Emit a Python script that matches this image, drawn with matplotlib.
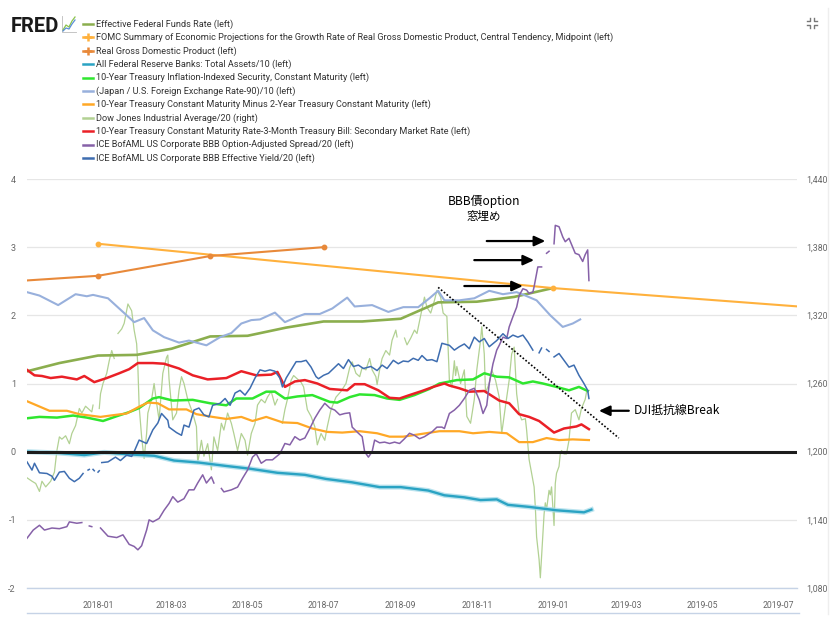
import numpy as np
import pandas as pd
import matplotlib
matplotlib.use('Agg')
import matplotlib.pyplot as plt
import matplotlib.dates as mdates
from matplotlib.lines import Line2D
from matplotlib.ticker import FuncFormatter

nan = np.nan

# ---------------- data ----------------
effr_dates = ['2017-11-01', '2017-12-01', '2018-01-01', '2018-02-01', '2018-03-01', '2018-04-01',
              '2018-05-01', '2018-06-01', '2018-07-01', '2018-08-01', '2018-09-01', '2018-10-01',
              '2018-11-01', '2018-12-01', '2019-01-01']
effr_vals = [1.16, 1.30, 1.41, 1.42, 1.51, 1.69, 1.70, 1.82, 1.91, 1.91, 1.95, 2.19, 2.20, 2.27, 2.40]

fomc_dates = ['2018-01-01', '2019-01-01', '2020-01-01']
fomc_vals = [3.05, 2.40, 1.90]

gdp_dates = ['2017-10-01', '2018-01-01', '2018-04-01', '2018-07-01']
gdp_vals = [2.47, 2.58, 2.87, 3.00]

fed_dates = ['2017-11-05', '2017-12-01', '2017-12-21', '2018-01-06', '2018-01-26', '2018-02-15',
             '2018-03-03', '2018-03-23', '2018-04-14', '2018-05-03', '2018-05-25', '2018-06-16',
             '2018-07-03', '2018-07-24', '2018-08-15', '2018-09-01', '2018-09-23', '2018-10-06',
             '2018-10-22', '2018-11-04', '2018-11-17', '2018-11-26', '2018-12-13', '2019-01-04',
             '2019-01-26', '2019-02-01']
fed_vals = [0.00, -0.02, -0.05, -0.01, -0.04, -0.06, -0.13, -0.16, -0.21, -0.25, -0.31, -0.34,
            -0.40, -0.45, -0.52, -0.52, -0.57, -0.64, -0.67, -0.71, -0.70, -0.78, -0.81, -0.86,
            -0.89, -0.85]

tips_dates = ['2017-11-05', '2017-11-15', '2017-11-29', '2017-12-12', '2017-12-23', '2018-01-05',
              '2018-01-16', '2018-01-26', '2018-02-03', '2018-02-14', '2018-02-19', '2018-03-02',
              '2018-03-18', '2018-04-01', '2018-04-14', '2018-04-22', '2018-05-05', '2018-05-16',
              '2018-05-23', '2018-05-31', '2018-06-10', '2018-06-16', '2018-06-22', '2018-07-06',
              '2018-07-12', '2018-07-22', '2018-07-30', '2018-08-11', '2018-08-21', '2018-08-31',
              '2018-09-12', '2018-09-24', '2018-10-02', '2018-10-16', '2018-10-29', '2018-11-07',
              '2018-11-17', '2018-11-27', '2018-12-08', '2018-12-16', '2018-12-24', '2019-01-04',
              '2019-01-14', '2019-01-22', '2019-01-29']
tips_vals = [0.49, 0.51, 0.50, 0.53, 0.50, 0.45, 0.52, 0.58, 0.64, 0.78, 0.80, 0.75, 0.76, 0.71,
             0.68, 0.78, 0.78, 0.88, 0.88, 0.78, 0.81, 0.82, 0.83, 0.73, 0.72, 0.80, 0.84, 0.83,
             0.78, 0.76, 0.83, 0.92, 1.00, 1.05, 1.06, 1.15, 1.10, 1.09, 1.00, 1.03, 1.00, 0.95,
             0.90, 0.95, 0.89]

jpy_dates = ['2017-11-05', '2017-11-15', '2017-11-30', '2017-12-14', '2017-12-23', '2017-12-28',
             '2018-01-09', '2018-01-18', '2018-01-30', '2018-02-07', '2018-02-14', '2018-02-23',
             '2018-03-07', '2018-03-15', '2018-03-29', '2018-04-09', '2018-04-18', '2018-04-26',
             '2018-05-04', '2018-05-11', '2018-05-23', '2018-05-31', '2018-06-10', '2018-06-16',
             '2018-06-28', '2018-07-08', '2018-07-20', '2018-07-26', '2018-08-09', '2018-08-22',
             '2018-09-03', '2018-09-15', '2018-09-24', '2018-10-01', '2018-10-06', '2018-10-18',
             '2018-10-30', '2018-11-11', '2018-11-22', '2018-12-03', '2018-12-10', '2018-12-19',
             '2018-12-30', '2019-01-09', '2019-01-17', '2019-01-23']
jpy_vals = [2.34, 2.29, 2.15, 2.31, 2.28, 2.30, 2.25, 2.10, 1.90, 1.96, 1.78, 1.68, 1.60, 1.63,
            1.56, 1.68, 1.74, 1.88, 1.93, 1.94, 2.04, 1.90, 1.98, 2.02, 2.02, 2.10, 2.26, 2.13,
            2.15, 2.05, 2.12, 2.12, 2.25, 2.36, 2.22, 2.22, 2.25, 2.36, 2.31, 2.34, 2.29, 2.22,
            2.00, 1.83, 1.88, 1.94]

t10y2y_dates = ['2017-11-05', '2017-11-23', '2017-12-07', '2017-12-17', '2018-01-03', '2018-01-11',
                '2018-01-24', '2018-02-03', '2018-02-10', '2018-02-18', '2018-02-27', '2018-03-13',
                '2018-03-21', '2018-04-03', '2018-04-14', '2018-04-26', '2018-05-05', '2018-05-16',
                '2018-05-29', '2018-06-10', '2018-06-22', '2018-07-04', '2018-07-16', '2018-07-30',
                '2018-08-13', '2018-08-23', '2018-09-03', '2018-09-14', '2018-10-02', '2018-10-18',
                '2018-10-29', '2018-11-11', '2018-11-25', '2018-12-05', '2018-12-16', '2018-12-27',
                '2019-01-06', '2019-01-17', '2019-01-30']
t10y2y_vals = [0.74, 0.60, 0.60, 0.55, 0.51, 0.53, 0.56, 0.66, 0.72, 0.71, 0.62, 0.62, 0.55, 0.51,
               0.48, 0.51, 0.45, 0.51, 0.43, 0.42, 0.34, 0.29, 0.28, 0.30, 0.27, 0.22, 0.22, 0.25,
               0.30, 0.30, 0.27, 0.29, 0.27, 0.14, 0.14, 0.20, 0.17, 0.18, 0.17]

t10y3m_dates = ['2017-11-05', '2017-11-11', '2017-11-17', '2017-11-24', '2017-12-03', '2017-12-15',
                '2017-12-21', '2017-12-29', '2018-01-08', '2018-01-18', '2018-01-26', '2018-02-02',
                '2018-02-14', '2018-02-23', '2018-03-07', '2018-03-18', '2018-03-30', '2018-04-14',
                '2018-04-26', '2018-05-08', '2018-05-20', '2018-05-25', '2018-05-31', '2018-06-08',
                '2018-06-16', '2018-06-26', '2018-07-06', '2018-07-20', '2018-07-26', '2018-08-03',
                '2018-08-14', '2018-08-23', '2018-08-31', '2018-09-08', '2018-09-18', '2018-09-27',
                '2018-10-06', '2018-10-10', '2018-10-18', '2018-10-26', '2018-11-07', '2018-11-19',
                '2018-11-27', '2018-12-05', '2018-12-13', '2018-12-21', '2019-01-02', '2019-01-10',
                '2019-01-20', '2019-01-24', '2019-01-30']
t10y3m_vals = [1.20, 1.12, 1.11, 1.08, 1.10, 1.06, 1.11, 1.02, 1.08, 1.15, 1.21, 1.30, 1.30, 1.29,
               1.22, 1.12, 1.06, 1.08, 1.18, 1.12, 1.13, 1.17, 0.95, 1.03, 1.05, 1.00, 0.92, 0.90,
               0.99, 0.99, 0.90, 0.79, 0.78, 0.83, 0.89, 0.95, 1.00, 0.97, 0.93, 0.88, 0.89, 0.75,
               0.71, 0.55, 0.51, 0.45, 0.28, 0.34, 0.37, 0.40, 0.33]

dji_dates = ['2017-11-05', '2017-11-09', '2017-11-12', '2017-11-15', '2017-11-17', '2017-11-20',
             '2017-11-24', '2017-11-27', '2017-11-29', '2017-12-01', '2017-12-03', '2017-12-06',
             '2017-12-09', '2017-12-11', '2017-12-14', '2017-12-17', '2017-12-19', '2017-12-22',
             '2017-12-27', '2017-12-28', '2017-12-30', '2018-01-02', '2018-01-03', '2018-01-05',
             '2018-01-08', '2018-01-10', '2018-01-12', '2018-01-14', '2018-01-15', '2018-01-17',
             '2018-01-20', '2018-01-22', '2018-01-25', '2018-01-28', '2018-01-30', '2018-02-01',
             '2018-02-02', '2018-02-03', '2018-02-05', '2018-02-06', '2018-02-07', '2018-02-09',
             '2018-02-10', '2018-02-13', '2018-02-15', '2018-02-17', '2018-02-19', '2018-02-22',
             '2018-02-25', '2018-02-26', '2018-02-27', '2018-03-02', '2018-03-05', '2018-03-07',
             '2018-03-09', '2018-03-11', '2018-03-14', '2018-03-18', '2018-03-21', '2018-03-22',
             '2018-03-25', '2018-03-27', '2018-03-30', '2018-04-02', '2018-04-04', '2018-04-07',
             '2018-04-10', '2018-04-12', '2018-04-15', '2018-04-18', '2018-04-20', '2018-04-23',
             '2018-04-26', '2018-04-29', '2018-05-01', '2018-05-04', '2018-05-07', '2018-05-09',
             '2018-05-12', '2018-05-15', '2018-05-17', '2018-05-20', '2018-05-23', '2018-05-25',
             '2018-05-27', '2018-05-29', '2018-05-31', '2018-06-02', '2018-06-05', '2018-06-07',
             '2018-06-10', '2018-06-13', '2018-06-15', '2018-06-18', '2018-06-21', '2018-06-24',
             '2018-06-26', '2018-06-29', '2018-07-02', '2018-07-04', '2018-07-07', '2018-07-11',
             '2018-07-15', '2018-07-19', '2018-07-22', '2018-07-24', '2018-07-27', '2018-07-30',
             '2018-08-01', '2018-08-04', '2018-08-07', '2018-08-09', '2018-08-12', '2018-08-13',
             '2018-08-15', '2018-08-17', '2018-08-20', '2018-08-23', '2018-08-25', '2018-08-28',
             '2018-08-29', '2018-09-01', '2018-09-04', '2018-09-06', '2018-09-09', '2018-09-12',
             '2018-09-14', '2018-09-17', '2018-09-20', '2018-09-22', '2018-09-25', '2018-09-28',
             '2018-09-30', '2018-10-03', '2018-10-05', '2018-10-08', '2018-10-10', '2018-10-12',
             '2018-10-14', '2018-10-15', '2018-10-16', '2018-10-19', '2018-10-22', '2018-10-24',
             '2018-10-27', '2018-10-30', '2018-11-01', '2018-11-04', '2018-11-05', '2018-11-07',
             '2018-11-08', '2018-11-11', '2018-11-13', '2018-11-16', '2018-11-19', '2018-11-21',
             '2018-11-24', '2018-11-27', '2018-11-29', '2018-12-01', '2018-12-03', '2018-12-05',
             '2018-12-07', '2018-12-10', '2018-12-11', '2018-12-13', '2018-12-15', '2018-12-17',
             '2018-12-18', '2018-12-19', '2018-12-21', '2018-12-22', '2018-12-25', '2018-12-26',
             '2018-12-27', '2018-12-29', '2018-12-30', '2018-12-31', '2019-01-02', '2019-01-03',
             '2019-01-04', '2019-01-06', '2019-01-07', '2019-01-08', '2019-01-10', '2019-01-12',
             '2019-01-14', '2019-01-16', '2019-01-19', '2019-01-22', '2019-01-24', '2019-01-27',
             '2019-01-28', '2019-01-30']
dji_vals = [1177, 1174, 1172, 1165, 1174, 1169, 1174, 1182, 1201, 1213, 1211, 1214,
            1207, 1216, 1223, 1238, 1234, 1240, 1235, 1241, nan, 1238, 1251, 1260,
            1269, 1280, 1289, 1282, nan, 1304, 1308, 1313, 1330, 1324, 1307, 1295,
            1274, 1240, 1213, 1203, 1194, 1216, 1234, 1246, 1260, 1243, 1228, 1269,
            1283, 1285, 1264, 1228, 1234, 1254, 1266, 1260, 1246, 1234, 1222, 1190,
            1210, 1196, 1207, 1184, 1213, 1201, 1225, 1219, 1234, 1225, 1216, 1201,
            1216, 1210, 1197, 1216, 1225, 1241, 1246, 1243, 1248, 1253, 1241, 1246,
            nan, 1225, 1237, 1246, 1263, 1267, 1264, 1261, 1257, 1237, 1231, 1222,
            1206, 1216, 1210, 1222, 1237, 1248, 1253, 1260, 1274, 1279, 1269, 1266,
            1274, 1272, 1282, 1272, 1266, 1259, 1272, 1282, 1289, 1285, 1298, 1307,
            1301, nan, 1300, 1294, 1300, 1307, 1304, 1320, 1336, 1327, 1322, 1333,
            1342, 1336, 1322, 1319, 1263, 1257, 1280, 1267, 1275, 1260, 1272, 1231,
            1225, 1246, 1272, 1298, 1310, 1286, 1252, 1260, 1272, 1263, 1248, 1216,
            1240, 1263, 1286, 1292, 1251, 1234, 1228, 1229, 1219, 1193, 1181, 1169,
            1151, 1125, 1105, 1089, 1145, 1155, 1149, 1166, 1162, 1169, 1135, 1172,
            1181, 1187, 1198, 1201, 1198, 1198, 1210, 1234, 1237, 1228, 1238, 1246,
            1252, 1254]

oas_dates = ['2017-11-05', '2017-11-10', '2017-11-15', '2017-11-19', '2017-11-25', '2017-12-01',
             '2017-12-07', '2017-12-09', '2017-12-15', '2017-12-19', '2017-12-22', '2017-12-25',
             '2017-12-27', '2017-12-29', '2018-01-03', '2018-01-09', '2018-01-16', '2018-01-21',
             '2018-01-26', '2018-01-30', '2018-02-02', '2018-02-05', '2018-02-09', '2018-02-11',
             '2018-02-14', '2018-02-17', '2018-02-19', '2018-02-23', '2018-02-27', '2018-03-02',
             '2018-03-06', '2018-03-11', '2018-03-15', '2018-03-19', '2018-03-22', '2018-03-26',
             '2018-03-29', '2018-04-02', '2018-04-04', '2018-04-06', '2018-04-10', '2018-04-12',
             '2018-04-18', '2018-04-23', '2018-04-27', '2018-05-01', '2018-05-05', '2018-05-08',
             '2018-05-12', '2018-05-16', '2018-05-21', '2018-05-27', '2018-05-31', '2018-06-04',
             '2018-06-08', '2018-06-12', '2018-06-16', '2018-06-20', '2018-06-24', '2018-06-28',
             '2018-07-02', '2018-07-06', '2018-07-10', '2018-07-14', '2018-07-18', '2018-07-22',
             '2018-07-24', '2018-07-29', '2018-08-01', '2018-08-03', '2018-08-06', '2018-08-09',
             '2018-08-11', '2018-08-15', '2018-08-19', '2018-08-23', '2018-08-27', '2018-08-31',
             '2018-09-04', '2018-09-08', '2018-09-12', '2018-09-16', '2018-09-20', '2018-09-26',
             '2018-09-30', '2018-10-04', '2018-10-06', '2018-10-10', '2018-10-14', '2018-10-18',
             '2018-10-22', '2018-10-26', '2018-10-30', '2018-11-03', '2018-11-06', '2018-11-09',
             '2018-11-11', '2018-11-14', '2018-11-17', '2018-11-19', '2018-11-22', '2018-11-25',
             '2018-11-27', '2018-11-30', '2018-12-03', '2018-12-05', '2018-12-08', '2018-12-11',
             '2018-12-13', '2018-12-16', '2018-12-17', '2018-12-19', '2018-12-20', '2018-12-23',
             '2018-12-25', '2018-12-27', '2018-12-29', '2019-01-01', '2019-01-02', '2019-01-03',
             '2019-01-06', '2019-01-09', '2019-01-11', '2019-01-14', '2019-01-17', '2019-01-19',
             '2019-01-22', '2019-01-25', '2019-01-27', '2019-01-29', '2019-01-30']
oas_vals = [-1.27, -1.15, -1.08, -1.15, -1.12, -1.13, -1.10, -1.03, -1.05, -1.04, nan, -1.09,
            -1.10, nan, -1.12, -1.24, -1.26, -1.22, -1.36, -1.39, -1.44, -1.38, -1.15, -1.00,
            -1.03, -1.00, -0.98, -0.86, -0.76, -0.66, -0.74, -0.69, -0.56, -0.56, -0.46, -0.34,
            -0.46, -0.37, -0.46, nan, -0.54, -0.59, -0.56, -0.52, -0.39, -0.27, -0.08, -0.03,
            -0.17, -0.12, -0.12, -0.03, 0.12, 0.10, 0.22, 0.17, 0.20, 0.34, 0.49, 0.61,
            0.71, 0.64, 0.61, 0.54, 0.56, 0.57, 0.36, 0.27, 0.22, 0.00, -0.08, 0.00,
            0.17, 0.13, 0.14, 0.12, 0.14, 0.12, 0.19, 0.27, 0.24, 0.19, 0.22, 0.29,
            0.36, 0.36, 0.34, 0.56, 0.61, 0.68, 0.78, 0.90, 0.93, 0.76, 0.56, 0.68,
            1.00, 1.29, 1.49, 1.56, 1.68, 1.66, 1.83, 1.98, 2.12, 2.29, 2.39, 2.37,
            2.32, 2.34, 2.42, 2.61, 2.71, 2.71, nan, 2.91, 2.94, nan, 3.05, 3.32,
            3.30, 3.15, 3.08, 3.13, 3.00, 2.91, 2.89, 2.79, 2.89, 2.96, 2.51]

bbb_dates = ['2017-11-05', '2017-11-09', '2017-11-11', '2017-11-15', '2017-11-21', '2017-11-25',
             '2017-11-27', '2017-12-01', '2017-12-05', '2017-12-09', '2017-12-13', '2017-12-17',
             '2017-12-20', '2017-12-22', '2017-12-24', '2017-12-25', '2017-12-26', '2017-12-28',
             '2017-12-29', '2017-12-31', '2018-01-01', '2018-01-02', '2018-01-03', '2018-01-04',
             '2018-01-09', '2018-01-15', '2018-01-19', '2018-01-24', '2018-01-28', '2018-01-30',
             '2018-02-03', '2018-02-09', '2018-02-14', '2018-02-18', '2018-02-21', '2018-02-26',
             '2018-02-27', '2018-03-05', '2018-03-09', '2018-03-11', '2018-03-15', '2018-03-19',
             '2018-03-23', '2018-03-27', '2018-03-31', '2018-04-03', '2018-04-09', '2018-04-13',
             '2018-04-17', '2018-04-21', '2018-04-25', '2018-04-29', '2018-05-03', '2018-05-07',
             '2018-05-11', '2018-05-15', '2018-05-19', '2018-05-23', '2018-05-27', '2018-05-29',
             '2018-06-01', '2018-06-05', '2018-06-09', '2018-06-13', '2018-06-17', '2018-06-21',
             '2018-06-25', '2018-06-27', '2018-07-01', '2018-07-05', '2018-07-09', '2018-07-13',
             '2018-07-17', '2018-07-21', '2018-07-25', '2018-07-29', '2018-08-02', '2018-08-08',
             '2018-08-13', '2018-08-17', '2018-08-21', '2018-08-26', '2018-08-30', '2018-09-03',
             '2018-09-07', '2018-09-11', '2018-09-15', '2018-09-18', '2018-09-22', '2018-09-26',
             '2018-09-30', '2018-10-04', '2018-10-10', '2018-10-14', '2018-10-18', '2018-10-22',
             '2018-10-26', '2018-10-30', '2018-11-03', '2018-11-07', '2018-11-11', '2018-11-17',
             '2018-11-22', '2018-11-26', '2018-11-30', '2018-12-04', '2018-12-08', '2018-12-12',
             '2018-12-16', '2018-12-19', '2018-12-21', '2018-12-23', '2018-12-25', '2018-12-27',
             '2018-12-29', '2019-01-01', '2019-01-02', '2019-01-06', '2019-01-10', '2019-01-14',
             '2019-01-18', '2019-01-22', '2019-01-26', '2019-01-29', '2019-01-30']
bbb_vals = [-0.15, -0.27, -0.17, -0.31, -0.32, -0.36, -0.42, -0.30, -0.29, -0.39, -0.44, -0.39,
            -0.32, nan, -0.27, -0.26, nan, -0.26, -0.28, nan, -0.30, -0.28, nan, -0.16,
            -0.15, -0.08, -0.13, -0.05, -0.07, 0.00, 0.17, 0.12, 0.32, 0.42, 0.56, 0.46,
            0.36, 0.28, 0.24, 0.39, 0.36, 0.61, 0.64, 0.54, 0.51, 0.68, 0.71, 0.78,
            0.68, 0.86, 0.90, 0.83, 0.93, 1.08, 1.20, 1.18, 1.20, 1.18, 1.08, 0.95,
            1.08, 1.20, 1.32, 1.32, 1.34, 1.24, 1.10, 1.07, 1.12, 1.15, 1.22, 1.29,
            1.22, 1.35, 1.25, 1.27, 1.22, 1.25, 1.19, 1.27, 1.22, 1.34, 1.29, 1.33,
            1.32, 1.37, 1.34, 1.41, 1.34, 1.35, 1.32, 1.59, 1.56, 1.49, 1.54, 1.58,
            1.51, 1.68, 1.61, 1.66, 1.54, 1.63, 1.73, 1.66, 1.71, 1.68, 1.71, 1.61,
            1.49, nan, 1.45, 1.52, nan, 1.50, 1.47, nan, 1.39, 1.44, 1.34, 1.24,
            1.27, 1.12, 1.00, 0.90, 0.78]

legend_labels = [
    'Effective Federal Funds Rate (left)',
    'FOMC Summary of Economic Projections for the Growth Rate of Real Gross Domestic Product, Central Tendency, Midpoint (left)',
    'Real Gross Domestic Product (left)',
    'All Federal Reserve Banks: Total Assets/10 (left)',
    '10-Year Treasury Inflation-Indexed Security, Constant Maturity (left)',
    '(Japan / U.S. Foreign Exchange Rate-90)/10 (left)',
    '10-Year Treasury Constant Maturity Minus 2-Year Treasury Constant Maturity (left)',
    'Dow Jones Industrial Average/20 (right)',
    '10-Year Treasury Constant Maturity Rate-3-Month Treasury Bill: Secondary Market Rate (left)',
    'ICE BofAML US Corporate BBB Option-Adjusted Spread/20 (left)',
    'ICE BofAML US Corporate BBB Effective Yield/20 (left)',
]

left_ticks = [-2, -1, 0, 1, 2, 3, 4]
right_ticks = [1080, 1140, 1200, 1260, 1320, 1380, 1440]

arrow_tails = ['2018-11-09', '2018-10-30', '2018-10-22', '2019-03-03']
arrow_heads = ['2018-12-26', '2018-12-17', '2018-12-08', '2019-02-07']
arrow_levels = [3.09, 2.81, 2.43, 0.60]
trend_dates = ['2018-10-01', '2019-02-23']
trend_vals = [2.41, 0.20]

# ---------------- styling ----------------
C_EFFR = '#8BAE4E'
C_FOMC = '#FFB13D'
C_GDP = '#E8893A'
C_FED = '#2AA3C3'
C_TIPS = '#2FE62F'
C_JPY = '#98B0DC'
C_T2Y = '#FFA826'
C_DJI = '#B2D193'
C_T3M = '#EA2027'
C_OAS = '#8661A8'
C_BBB = '#3E6DB0'
legend_colors = [C_EFFR, C_FOMC, C_GDP, C_FED, C_TIPS, C_JPY, C_T2Y, C_DJI, C_T3M, C_OAS, C_BBB]
legend_plus = [False, True, True, False, False, False, False, False, False, False, False]

plt.rcParams['font.family'] = ['Roboto', 'DejaVu Sans']

W, H = 834, 624
fig = plt.figure(figsize=(W / 100, H / 100), dpi=100)
fig.patch.set_facecolor('white')


def fx(px):
    return px / W


def fy(py):
    return 1 - py / H


ax = fig.add_axes([fx(27), fy(588), (797 - 27) / W, (588 - 179) / H])
ax2 = ax.twinx()
ax.set_zorder(2)
ax2.set_zorder(1)
ax.patch.set_visible(False)

D = pd.to_datetime

# right axis series (behind)
ax2.plot(D(dji_dates), dji_vals, color=C_DJI, lw=0.9, zorder=3)

# left axis series, in FRED order
ax.plot(D(effr_dates), effr_vals, color=C_EFFR, lw=1.9, zorder=3)
ax.plot(D(fomc_dates), fomc_vals, color=C_FOMC, lw=1.5, marker='o', ms=3.2, zorder=3)
ax.plot(D(gdp_dates), gdp_vals, color=C_GDP, lw=1.5, marker='o', ms=3.2, zorder=3)
ax.plot(D(fed_dates), fed_vals, color='#A9DCEA', lw=3.6, alpha=0.8, zorder=3)
ax.plot(D(fed_dates), fed_vals, color=C_FED, lw=1.7, zorder=3)
ax.plot(D(tips_dates), tips_vals, color=C_TIPS, lw=1.8, zorder=3)
ax.plot(D(jpy_dates), jpy_vals, color=C_JPY, lw=1.5, zorder=3)
ax.plot(D(t10y2y_dates), t10y2y_vals, color=C_T2Y, lw=1.6, zorder=3)
ax.plot(D(t10y3m_dates), t10y3m_vals, color=C_T3M, lw=1.8, zorder=3)
ax.plot(D(oas_dates), oas_vals, color=C_OAS, lw=1.1, zorder=3)
ax.plot(D(bbb_dates), bbb_vals, color=C_BBB, lw=1.1, zorder=3)

ax.axhline(0, color='#1c1c1c', lw=2.2, zorder=6)

ax.set_xlim(pd.Timestamp('2017-11-05'), pd.Timestamp('2019-07-16'))
ax.set_ylim(-2, 4)
ax2.set_ylim(1080, 1440)
ax.set_yticks(left_ticks)
ax2.set_yticks(right_ticks)
ax2.yaxis.set_major_formatter(FuncFormatter(lambda v, p: f'{int(v):,}'))
ax.yaxis.set_major_formatter(FuncFormatter(lambda v, p: f'{int(v)}'))

ax.xaxis.set_major_locator(mdates.MonthLocator(bymonth=[1, 3, 5, 7, 9, 11]))
ax.xaxis.set_major_formatter(mdates.DateFormatter('%Y-%m'))

ax2.grid(axis='y', color='#E6E6E6', lw=0.9, zorder=0)
for a in (ax, ax2):
    for s in a.spines.values():
        s.set_visible(False)
ax.spines['bottom'].set_visible(True)
ax.spines['bottom'].set_color('#C6D3E6')
ax.spines['bottom'].set_linewidth(1.0)

ax.tick_params(axis='y', length=0, pad=8, labelsize=6.5, labelcolor='#666666')
ax2.tick_params(axis='y', length=0, pad=6.5, labelsize=6.3, labelcolor='#666666')
ax.tick_params(axis='x', length=0, pad=9, labelsize=6.2, labelcolor='#666666')

# ---------------- annotations ----------------
cjk = ['Noto Sans CJK JP', 'DejaVu Sans']
ax.plot(D(trend_dates), trend_vals, color='black', lw=1.2, ls=(0, (1, 1.2)), zorder=7)
for t, h, lv in zip(arrow_tails, arrow_heads, arrow_levels):
    ax.annotate('', xy=(D(h), lv), xytext=(D(t), lv), zorder=8, annotation_clip=False,
                arrowprops=dict(arrowstyle='-|>,head_length=0.65,head_width=0.3', color='black',
                                lw=1.6, shrinkA=0, shrinkB=0))
ax.text(D('2018-11-07'), 3.67, 'BBB債option', ha='center', va='center', fontsize=8.6,
        family=cjk, color='black', zorder=8)
ax.text(D('2018-11-07'), 3.45, '窓埋め', ha='center', va='center', fontsize=8.3,
        family=cjk, color='black', zorder=8)
ax.text(D('2019-03-07'), 0.60, 'DJI抵抗線Break', ha='left', va='center', fontsize=8.6,
        family=cjk, color='black', zorder=8)

# ---------------- legend / header ----------------
for i, (lab, col, plus) in enumerate(zip(legend_labels, legend_colors, legend_plus)):
    yy = 24 + i * 13.4
    fig.add_artist(Line2D([fx(83), fx(93)], [fy(yy), fy(yy)], color=col, lw=1.8,
                          transform=fig.transFigure))
    if plus:
        fig.add_artist(Line2D([fx(88)], [fy(yy)], color=col, marker='+', ms=6, mew=1.8,
                              transform=fig.transFigure))
    fig.text(fx(96), fy(yy), lab, ha='left', va='center', fontsize=6.6, color='#333333')

fig.text(fx(11), fy(32), 'FRED', ha='left', va='baseline', fontsize=14.5, fontweight='bold',
         family=['Roboto', 'DejaVu Sans'], color='#1a1a1a')
# small chart icon next to the logo
fig.add_artist(Line2D([fx(62), fx(62), fx(76)], [fy(16), fy(32), fy(32)], color='#bbbbbb', lw=0.6,
                      transform=fig.transFigure))
fig.add_artist(Line2D([fx(63), fx(66), fx(69), fx(72), fx(75)], [fy(30), fy(25), fy(27), fy(21), fy(17)],
                      color='#8BC34A', lw=0.9, transform=fig.transFigure))
fig.add_artist(Line2D([fx(63), fx(66), fx(69), fx(72), fx(75)], [fy(31), fy(28), fy(29), fy(24), fy(20)],
                      color='#5B8FD6', lw=0.9, transform=fig.transFigure))

# exit-fullscreen icon (top right)
for cx, cy, dx, dy in [(810, 21, -1, -1), (814, 21, 1, -1), (810, 25, -1, 1), (814, 25, 1, 1)]:
    fig.add_artist(Line2D([fx(cx + 3 * dx), fx(cx), fx(cx)], [fy(cy), fy(cy), fy(cy + 3 * dy)],
                          color='#777777', lw=1.0, transform=fig.transFigure))

# frame lines
fig.add_artist(Line2D([fx(27), fx(799)], [fy(613), fy(613)], color='#C6D3E6', lw=1.0,
                      transform=fig.transFigure))
fig.add_artist(Line2D([fx(828), fx(828)], [fy(8), fy(614)], color='#EEEEEE', lw=1.0,
                      transform=fig.transFigure))

fig.savefig('out.png', dpi=100, facecolor='white')
